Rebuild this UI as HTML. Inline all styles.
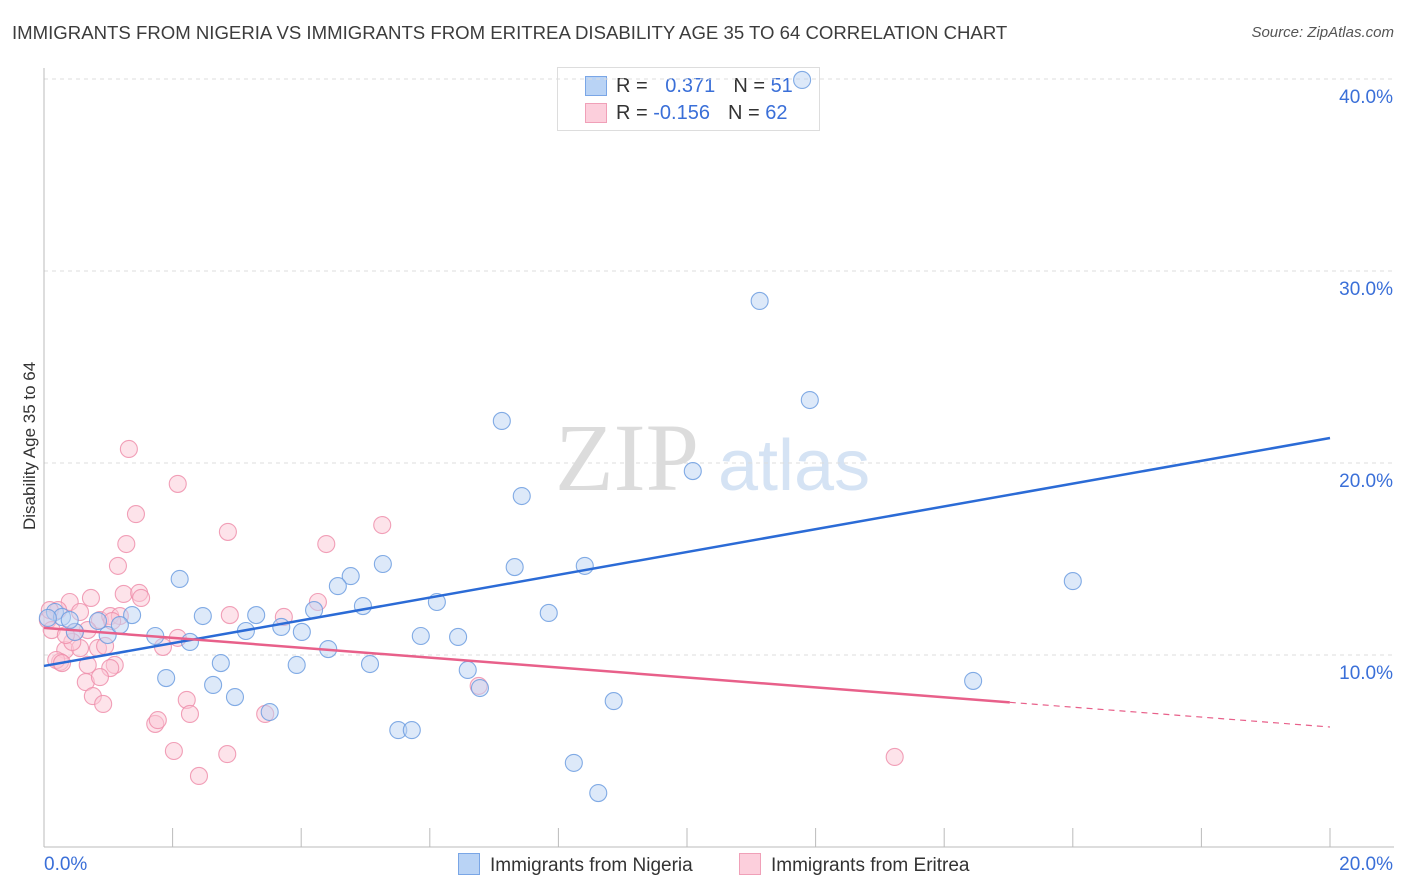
<!DOCTYPE html>
<html><head><meta charset="utf-8">
<style>
body{margin:0;background:#fff;font-family:"Liberation Sans",sans-serif;}
#wrap{position:relative;width:1406px;height:892px;overflow:hidden;}
.t{position:absolute;white-space:nowrap;}
</style></head>
<body>
<div id="wrap">
<div class="t" style="left:12px;top:22px;font-size:18.6px;color:#3c3c3c;">IMMIGRANTS FROM NIGERIA VS IMMIGRANTS FROM ERITREA DISABILITY AGE 35 TO 64 CORRELATION CHART</div>
<div class="t" style="right:12px;top:24px;font-size:15px;color:#555;font-style:italic;">Source: ZipAtlas.com</div>
<div class="t" style="left:-45px;top:445px;font-size:17px;color:#333;transform:rotate(-90deg);transform-origin:center;width:150px;text-align:center;">Disability Age 35 to 64</div>
<div class="t" style="left:557px;top:67px;width:261px;height:62px;border:1px solid #ddd;background:#fff;font-size:20px;">
  <div style="position:absolute;left:27px;top:8px;width:20px;height:18px;background:#b9d3f5;border:1px solid #7aa6e6;"></div>
  <div class="t" style="left:58px;top:7px;color:#333;">R = <span style="color:#3a6fd8;margin-left:12px">0.371</span><span style="color:#333;margin-left:18px">N = </span><span style="color:#3a6fd8">51</span></div>
  <div style="position:absolute;left:27px;top:35px;width:20px;height:18px;background:#fccfdc;border:1px solid #f0a0b8;"></div>
  <div class="t" style="left:58px;top:34px;color:#333;">R = <span style="color:#3a6fd8">-0.156</span><span style="color:#333;margin-left:18px">N = </span><span style="color:#3a6fd8">62</span></div>
</div>
<svg id="svg" width="1406" height="892" style="position:absolute;left:0;top:0"></svg>
<div class="t" style="left:458px;top:853px;font-size:19px;color:#333;"><span style="display:inline-block;width:20px;height:20px;background:#b9d3f5;border:1px solid #7aa6e6;vertical-align:-4px;margin-right:10px;"></span>Immigrants from Nigeria</div>
<div class="t" style="left:739px;top:853px;font-size:19px;color:#333;"><span style="display:inline-block;width:20px;height:20px;background:#fccfdc;border:1px solid #f0a0b8;vertical-align:-4px;margin-right:10px;"></span>Immigrants from Eritrea</div>
</div>
<script>
const yTicks=[10,20,30,40];
const yTickLabels=["10.0%","20.0%","30.0%","40.0%"];
const xTickLabels=["0.0%","20.0%"];
const nigeriaX=[11.79,11.13,11.91,7.12,10.09,7.43,5.27,7.32,8.41,4.77,4.57,2.11,16.0,4.96,6.11,7.85,3.30,2.47,1.37,4.2,3.69,3.14,4.01,1.73,5.86,6.44,2.27,0.99,4.42,2.75,3.93,5.07,6.59,1.90,2.63,2.97,6.78,14.45,8.86,3.51,5.51,5.72,8.24,8.62,0.17,0.28,0.48,0.84,1.18,0.40,0.06];
const nigeriaY=[39.95,28.44,23.28,22.19,19.58,18.28,14.74,14.58,14.64,14.11,13.59,13.96,13.85,12.55,12.76,12.19,12.08,12.03,12.08,12.34,11.46,11.25,11.2,10.99,10.99,10.94,10.68,11.04,10.31,9.58,9.48,9.53,9.22,8.8,8.44,7.81,8.28,8.65,7.6,7.03,6.09,6.09,4.38,2.81,12.24,11.98,11.2,11.77,11.56,11.82,11.93];
const eritreaX=[1.32,2.08,1.43,2.86,1.28,4.39,5.26,1.15,0.73,0.40,1.24,1.48,1.51,2.08,1.85,3.73,2.89,4.26,0.87,1.03,0.56,0.22,1.18,0.68,0.48,0.33,0.56,0.84,0.25,0.68,1.10,1.03,0.19,0.28,0.65,0.87,0.76,0.92,2.22,2.27,1.73,1.77,3.44,2.02,2.85,2.41,6.76,13.23,0.06,0.09,0.44,0.95,1.06,0.12,0.34];
const eritreaY=[20.73,18.91,17.34,16.41,15.78,15.78,16.77,14.64,12.97,12.76,13.18,13.23,12.97,10.89,10.42,11.98,12.08,12.76,11.82,12.03,12.24,12.34,12.03,11.3,11.2,10.26,10.36,10.36,9.64,9.48,9.48,9.32,9.74,9.58,8.59,8.85,7.86,7.45,7.66,6.93,6.41,6.61,6.93,5.0,4.84,3.7,8.39,4.69,11.82,12.34,10.68,10.47,11.77,11.3,11.04];
const nigeriaTrend=[9.43,21.3];
const eritreaTrend=[11.41,6.25];
const eritreaSolidEnd=15.02;

const svg=document.getElementById('svg');
const NS='http://www.w3.org/2000/svg';
const X0=44,X1=1330,Y0=847,PX=(X1-X0)/20,PY=19.2;
const xs=v=>X0+v*PX, ys=v=>Y0-v*PY;
function mk(tag,attrs){const e=document.createElementNS(NS,tag);for(const k in attrs)e.setAttribute(k,attrs[k]);svg.appendChild(e);return e;}
let w=mk('text',{x:555,y:490,'font-size':'96','font-family':'Liberation Serif,serif',fill:'#dcdcdc'});w.textContent='ZIP';


let w2=mk('text',{x:718,y:490,'font-size':'72','font-family':'Liberation Sans,sans-serif',fill:'#d5e3f4'});w2.textContent='atlas';


yTicks.forEach((t,i)=>{
  let g=mk('line',{x1:X0,x2:1394,y1:ys(t),y2:ys(t),stroke:'#ddd','stroke-dasharray':'4,4'});
  
  
  let l=mk('text',{x:1393,y:ys(t)+24,'text-anchor':'end','font-size':'19',fill:'#3a6fd8','font-family':'Liberation Sans,sans-serif'});
  l.textContent=yTickLabels[i];
  
  
});
let ax=mk('line',{x1:X0,x2:X0,y1:68,y2:Y0,stroke:'#bbb'});


let bx=mk('line',{x1:X0,x2:1394,y1:Y0,y2:Y0,stroke:'#bbb'});


for(let i=0;i<=10;i++){let tk=mk('line',{x1:xs(i*2),x2:xs(i*2),y1:828,y2:Y0,stroke:'#bbb'});

}
[[0,'start',44],[20,'end',1393]].forEach((d,i)=>{let l=mk('text',{x:d[2],y:870,'text-anchor':d[1],'font-size':'19',fill:'#3a6fd8','font-family':'Liberation Sans,sans-serif'});l.textContent=xTickLabels[i];

});
function pts(X,Y,fill,stroke,name){X.forEach((x,i)=>{let c=mk('circle',{cx:xs(x),cy:ys(Y[i]),r:8.5,fill:fill,'fill-opacity':0.5,stroke:stroke,'stroke-width':1.1,'stroke-opacity':0.85});

});}
pts(eritreaX,eritreaY,'#fbc7d6','#ee8fab','eritrea-point');
pts(nigeriaX,nigeriaY,'#bcd4f3','#6d9de0','nigeria-point');
let tb=mk('line',{x1:xs(0),y1:ys(nigeriaTrend[0]),x2:xs(20),y2:ys(nigeriaTrend[1]),stroke:'#2b6bd6','stroke-width':2.5});


const ey=x=>eritreaTrend[0]+(eritreaTrend[1]-eritreaTrend[0])*x/20;
let tp=mk('line',{x1:xs(0),y1:ys(ey(0)),x2:xs(eritreaSolidEnd),y2:ys(ey(eritreaSolidEnd)),stroke:'#e8608a','stroke-width':2.5});


let td=mk('line',{x1:xs(eritreaSolidEnd),y1:ys(ey(eritreaSolidEnd)),x2:xs(20),y2:ys(ey(20)),stroke:'#e8608a','stroke-width':1.2,'stroke-dasharray':'6,5'});


</script>
</body></html>
